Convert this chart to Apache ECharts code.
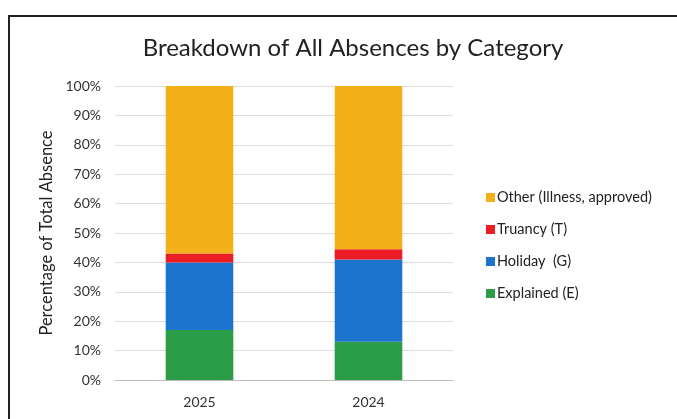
<!DOCTYPE html>
<html>
<head>
<meta charset="utf-8">
<script src="https://cdn.jsdelivr.net/npm/echarts@6/dist/echarts.min.js"></script>
<style>
  html, body { margin: 0; padding: 0; background: #fff; }
  #wrap { position: absolute; left: 0; top: 0; width: 677px; height: 419px; background: #fff; }
  #frame { position: absolute; left: 8px; top: 15px; width: 680px; height: 420px; border: 2px solid #222; box-sizing: border-box; }
  #chart { position: absolute; left: 0; top: 0; width: 677px; height: 419px; }
</style>
</head>
<body>
<div id="wrap">
  <div id="frame"></div>
  <div id="chart"></div>
</div>
<script>
// data
var years = ['2025', '2024'];
var explained = [17, 13];
var holiday = [23, 28];
var truancy = [3, 3.5];
var other = [57, 55.5];

var font = 'Lato, "Open Sans", sans-serif';

var chart = echarts.init(document.getElementById('chart'));

function bar(name, data, color) {
  return {
    name: name,
    type: 'bar',
    stack: 'total',
    barWidth: '40%',
    data: data,
    itemStyle: { color: color }
  };
}

var option = {
  animation: false,
  title: {
    text: 'Breakdown of All Absences by Category',
    left: 348,
    textAlign: 'center',
    top: 31,
    textStyle: { fontFamily: font, fontWeight: 'normal', fontSize: 24, color: '#222' }
  },
  grid: { left: 115, right: 224, top: 86, bottom: 39 },
  legend: {
    orient: 'vertical',
    left: 481,
    top: 184,
    itemGap: 15,
    itemWidth: 9,
    itemHeight: 9,
    icon: 'rect',
    data: ['Other (Illness, approved)', 'Truancy (T)', 'Holiday  (G)', 'Explained (E)'],
    textStyle: { fontFamily: font, fontSize: 14.5, lineHeight: 17, color: '#222', padding: [0, 0, 0, -3] }
  },
  xAxis: {
    type: 'category',
    data: years,
    axisLine: { lineStyle: { color: '#bbb' } },
    axisTick: { show: false },
    axisLabel: { fontFamily: font, fontSize: 14, color: '#333', margin: 15 }
  },
  yAxis: {
    type: 'value',
    min: 0,
    max: 100,
    interval: 10,
    name: 'Percentage of Total Absence',
    nameLocation: 'middle',
    nameGap: 60,
    nameTextStyle: { fontFamily: font, fontSize: 16.5, color: '#222' },
    axisLabel: { fontFamily: font, fontSize: 14, color: '#333', margin: 14, formatter: '{value}%' },
    splitLine: { lineStyle: { color: '#ddd' } }
  },
  series: [
    bar('Explained (E)', explained, '#2b9c48'),
    bar('Holiday  (G)', holiday, '#1d74cc'),
    bar('Truancy (T)', truancy, '#ec1c24'),
    bar('Other (Illness, approved)', other, '#f4b019')
  ]
};

chart.setOption(option);
</script>
</body>
</html>
